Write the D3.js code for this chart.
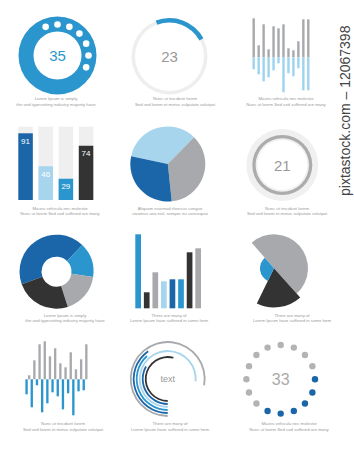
<!DOCTYPE html>
<html>
<head>
<meta charset="utf-8">
<script src="https://cdn.jsdelivr.net/npm/d3@7"></script>
<style>
  body { margin: 0; background: #fff; }
  text { font-family: "Liberation Sans", Arial, sans-serif; }
</style>
</head>
<body>
<div id="chart"></div>
<script>
// ---- data ----
const ring1Label = "35";
const ring1Dots = [-1, 0, 1, 2, 3, 4, 5];        // positions out of 16

const gauge2Value = 23;                           // percent of the ring

const bars3Up   = [39, 12, 33, 8, 31, 29, 33, 9, 7, 16, 38, 38];
const bars3Down = [12, 17, 24, 20, 13, 6, 35, 16, 19, 11, 33, 33];

const bars4Values = [91, 46, 29, 74];

const pie5Values = [34, 36, 30];

const ring6Label = "21";

const donut7Values = [42.8, 15, 17.8, 24.4];

const bars8Values = [74, 16, 36, 27, 29, 29, 56, 60];

const rose9Angles = [179, 68, 113];
const rose9Radii  = [85, 98, 35];

const bars10Up   = [4, 19, 35, 38, 23, 31, 16, 12, 27, 10, 20, 35];
const bars10Down = [15, 28, 6, 33, 24, 13, 17, 30, 14, 36, 12, 11];

const arcs11Ends = [460, 325, 318, 455, 300, 375];  // degrees, all start at 180
const arcs11Label = "text";

const dots12Label = "33";
const dots12Blue = [4, 5, 6, 7, 8, 9];

const captions = [
  ["Lorem Ipsum is simply", "the  and typesetting industry majority have"],
  ["Nunc ut tincidunt lorem", "Sed sed lorem et metus vulputate volutpat"],
  ["Mauris vehicula nec molestie", "Nunc ut  lorem  Sed sed  suffered  are many"],
  ["Mauris vehicula nec molestie", "Nunc ut  lorem  Sed sed  suffered  are many"],
  ["Aliquam euismod rhoncus congue", "vivamus una nisl, semper eu consequat"],
  ["Nunc ut tincidunt lorem", "Sed sed lorem et metus vulputate volutpat"],
  ["Lorem Ipsum is simply", "the  and typesetting industry majority have"],
  ["There are many  of", "Lorem Ipsum  have suffered  in some form"],
  ["There are many  of", "Lorem Ipsum  have suffered  in some form"],
  ["Nunc ut tincidunt lorem", "Sed sed lorem et metus vulputate volutpat"],
  ["There are many  of", "Lorem Ipsum  have suffered  in some form"],
  ["Mauris vehicula nec molestie", "Nunc ut  lorem  Sed sed  suffered  are many"]
];

// ---- styles ----
const blue = "#2a96cd", darkBlue = "#1b65a9", lightBlue = "#a6d5ed",
      dark = "#333333", gray = "#a7a9ac", paleGray = "#efefef", skyBlue = "#9dd3ef";

const W = 354, H = 450;
const svg = d3.select("#chart").append("svg")
    .attr("width", W)
    .attr("height", H);

const rad = d3.scaleLinear().domain([0, 360]).range([0, 2 * Math.PI]);
const dotAngle = d3.scaleLinear().domain([0, 16]).range([0, 2 * Math.PI]);

function centerLabel(g, txt, size, color, dy) {
    g.append("text")
        .attr("text-anchor", "middle")
        .attr("y", dy)
        .attr("font-size", size)
        .attr("fill", color)
        .text(txt);
}

// ---- captions ----
const capPos = [
    [56, 100], [175, 100], [286, 100],
    [60, 209.5], [170, 209.5], [287, 209.5],
    [65, 316.5], [169, 316.5], [292, 316.5],
    [63, 425], [170, 425], [289, 425]
];
captions.forEach((c, i) => {
    let t = svg.append("text")
        .attr("text-anchor", "middle")
        .attr("font-size", 4.3)
        .attr("fill", "#999")
        .attr("transform", "translate(" + capPos[i][0] + "," + capPos[i][1] + ")");
    t.append("tspan").attr("x", 0).attr("y", 0).text(c[0]);
    t.append("tspan").attr("x", 0).attr("y", 5.5).text(c[1]);
});

// ---- 1: blue ring with dots ----
{
    const g = svg.append("g").attr("transform", "translate(57.5,55.5)");
    g.append("path")
        .attr("d", d3.arc()({innerRadius: 24, outerRadius: 39, startAngle: 0, endAngle: 2 * Math.PI}))
        .attr("fill", blue);
    g.selectAll("circle")
        .data(ring1Dots)
        .enter()
        .append("circle")
        .attr("cx", d => 31 * Math.sin(dotAngle(d)))
        .attr("cy", d => -31 * Math.cos(dotAngle(d)))
        .attr("r", 3.3)
        .attr("fill", "#fff");
    centerLabel(g, ring1Label, 15, blue, 5.5);
}

// ---- 2: gauge ----
{
    const g = svg.append("g").attr("transform", "translate(169.5,56.5)");
    const pct = d3.scaleLinear().domain([0, 100]).range([rad(-21), rad(-21) + 2 * Math.PI]);
    g.append("path")
        .attr("d", d3.arc()({innerRadius: 34.5, outerRadius: 38, startAngle: 0, endAngle: 2 * Math.PI}))
        .attr("fill", "#eeeeee");
    g.append("path")
        .attr("d", d3.arc()({innerRadius: 34, outerRadius: 38.5, startAngle: pct(0), endAngle: pct(gauge2Value)}))
        .attr("fill", blue);
    centerLabel(g, String(gauge2Value), 15, "#999", 5.5);
}

// ---- 3: up/down bars ----
{
    const x = d3.scaleBand().domain(d3.range(bars3Up.length)).range([252.5, 309.5]).paddingInner(0.52);
    const y = d3.scaleLinear().domain([0, 40]).range([0, 40]);
    const base = 57.3;
    svg.append("g").selectAll("rect")
        .data(bars3Up)
        .enter()
        .append("rect")
        .attr("x", (d, i) => x(i))
        .attr("y", d => base - y(d))
        .attr("width", x.bandwidth())
        .attr("height", d => y(d))
        .attr("fill", gray);
    svg.append("g").selectAll("rect")
        .data(bars3Down)
        .enter()
        .append("rect")
        .attr("x", (d, i) => x(i))
        .attr("y", base)
        .attr("width", x.bandwidth())
        .attr("height", d => y(d))
        .attr("fill", skyBlue);
}

// ---- 4: percent bars ----
{
    const colors = [darkBlue, lightBlue, blue, dark];
    const x = d3.scaleBand().domain(d3.range(bars4Values.length)).range([18.3, 93.3]).paddingInner(0.28);
    const y = d3.scaleLinear().domain([0, 100]).range([200, 126.7]);
    const g = svg.append("g");
    g.selectAll(".bg")
        .data(bars4Values)
        .enter()
        .append("rect")
        .attr("x", (d, i) => x(i))
        .attr("y", y(100))
        .attr("width", x.bandwidth())
        .attr("height", y(0) - y(100))
        .attr("fill", paleGray);
    g.selectAll(".bar")
        .data(bars4Values)
        .enter()
        .append("rect")
        .attr("x", (d, i) => x(i))
        .attr("y", d => y(d))
        .attr("width", x.bandwidth())
        .attr("height", d => y(0) - y(d))
        .attr("fill", (d, i) => colors[i]);
    g.selectAll("text")
        .data(bars4Values)
        .enter()
        .append("text")
        .attr("x", (d, i) => x(i) + x.bandwidth() / 2)
        .attr("y", d => y(d) + 10.5)
        .attr("text-anchor", "middle")
        .attr("font-size", 8)
        .attr("fill", "#fff")
        .text(d => d);
}

// ---- 5: pie ----
{
    const colors = [lightBlue, gray, darkBlue];
    const g = svg.append("g").attr("transform", "translate(167.8,164)");
    const pie = d3.pie().sort(null).startAngle(rad(-78)).endAngle(rad(282));
    const arc = d3.arc().innerRadius(0).outerRadius(37.5);
    g.selectAll("path")
        .data(pie(pie5Values))
        .enter()
        .append("path")
        .attr("d", arc)
        .attr("fill", (d, i) => colors[i]);
}

// ---- 6: gray rings ----
{
    const g = svg.append("g").attr("transform", "translate(282.3,165)");
    g.append("path")
        .attr("d", d3.arc()({innerRadius: 25, outerRadius: 36, startAngle: 0, endAngle: 2 * Math.PI}))
        .attr("fill", "#f0f0f0");
    g.append("path")
        .attr("d", d3.arc()({innerRadius: 26.7, outerRadius: 30, startAngle: 0, endAngle: 2 * Math.PI}))
        .attr("fill", "#acacac");
    centerLabel(g, ring6Label, 15, "#999", 5.5);
}

// ---- 7: donut ----
{
    const colors = [darkBlue, blue, gray, dark];
    const g = svg.append("g").attr("transform", "translate(56.5,271.7)");
    const pie = d3.pie().sort(null).startAngle(rad(-110)).endAngle(rad(250));
    const arc = d3.arc().innerRadius(15).outerRadius(37);
    g.selectAll("path")
        .data(pie(donut7Values))
        .enter()
        .append("path")
        .attr("d", arc)
        .attr("fill", (d, i) => colors[i]);
}

// ---- 8: bar chart ----
{
    const colors = [blue, dark, gray, lightBlue, darkBlue, blue, dark, gray];
    const x = d3.scaleBand().domain(d3.range(bars8Values.length)).range([135.3, 201]).paddingInner(0.335);
    const y = d3.scaleLinear().domain([0, 80]).range([308.3, 228.3]);
    svg.append("g").selectAll("rect")
        .data(bars8Values)
        .enter()
        .append("rect")
        .attr("x", (d, i) => x(i))
        .attr("y", d => y(d))
        .attr("width", x.bandwidth())
        .attr("height", d => y(0) - y(d))
        .attr("fill", (d, i) => colors[i]);
}

// ---- 9: rose ----
{
    const colors = [gray, dark, blue];
    const r = d3.scaleLinear().domain([0, 100]).range([0, 40]);
    const g = svg.append("g").attr("transform", "translate(274,268.3)");
    const pie = d3.pie().sort(null).startAngle(rad(-41)).endAngle(rad(319));
    const slices = pie(rose9Angles);
    g.selectAll("path")
        .data(slices)
        .enter()
        .append("path")
        .attr("d", (d, i) => d3.arc().innerRadius(0).outerRadius(r(rose9Radii[i]))(d))
        .attr("fill", (d, i) => colors[i]);
}

// ---- 10: up/down bars ----
{
    const x = d3.scaleBand().domain(d3.range(bars10Up.length)).range([28, 87.5]).paddingInner(0.55);
    const y = d3.scaleLinear().domain([0, 40]).range([0, 40]);
    const base = 379.3;
    svg.append("g").selectAll("rect")
        .data(bars10Up)
        .enter()
        .append("rect")
        .attr("x", (d, i) => x(i))
        .attr("y", d => base - y(d))
        .attr("width", x.bandwidth())
        .attr("height", d => y(d))
        .attr("fill", gray);
    svg.append("g").selectAll("rect")
        .data(bars10Down)
        .enter()
        .append("rect")
        .attr("x", (d, i) => x(i) - 2.6)
        .attr("y", base)
        .attr("width", x.bandwidth())
        .attr("height", d => y(d))
        .attr("fill", blue);
}

// ---- 11: concentric arcs ----
{
    const colors = [gray, darkBlue, blue, lightBlue, darkBlue, dark];
    const r = d3.scaleLinear().domain([0, arcs11Ends.length - 1]).range([37, 22]);
    const g = svg.append("g").attr("transform", "translate(167.7,379)");
    g.selectAll("path")
        .data(arcs11Ends)
        .enter()
        .append("path")
        .attr("d", (d, i) => d3.arc()({innerRadius: r(i) - 0.9, outerRadius: r(i) + 0.9, startAngle: rad(180), endAngle: rad(d)}))
        .attr("fill", (d, i) => colors[i]);
    centerLabel(g, arcs11Label, 9, "#999", 3);
}

// ---- 12: dot ring ----
{
    const g = svg.append("g").attr("transform", "translate(280.7,379.3)");
    g.selectAll("circle")
        .data(d3.range(16))
        .enter()
        .append("circle")
        .attr("cx", d => 34.3 * Math.sin(dotAngle(d)))
        .attr("cy", d => -34.3 * Math.cos(dotAngle(d)))
        .attr("r", 3.2)
        .attr("fill", d => dots12Blue.includes(d) ? darkBlue : "#b3b3b3");
    centerLabel(g, dots12Label, 16, "#aaa", 6);
}

// ---- side stamp ----
svg.append("text")
    .attr("transform", "translate(350,196) rotate(-90)")
    .attr("font-size", 14)
    .attr("fill", "#444")
    .text("pixtastock.com \u2013 12067398");
</script>
</body>
</html>
